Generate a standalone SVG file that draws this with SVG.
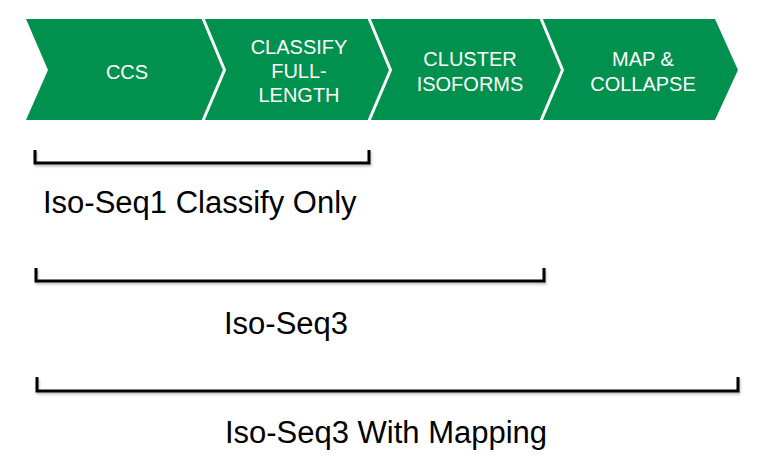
<svg xmlns="http://www.w3.org/2000/svg" width="767" height="459" viewBox="0 0 767 459">
<defs>
<filter id="sh" x="-5%" y="-50%" width="110%" height="200%">
<feDropShadow dx="1" dy="2" stdDeviation="1.2" flood-color="#000" flood-opacity="0.25"/>
</filter>
</defs>
<style>
.step{fill:#00914f}
.sep{fill:none;stroke:#fff;stroke-width:3}
.st{font-family:"Liberation Sans",Arial,sans-serif;font-size:20px;fill:#fff;text-anchor:middle}
.br{fill:none;stroke:#000;stroke-width:3;filter:url(#sh)}
.lb{font-family:"Liberation Sans",Arial,sans-serif;font-size:31px;fill:#000}
</style>
<rect width="767" height="459" fill="#fff"/>
<g id="steps">
<polygon class="step" points="26,19 715,19 738,70 715,120 26,120 48,70"/>
<polyline class="sep" points="202,16 224.5,70 202,123"/>
<polyline class="sep" points="368,16 390.5,70 368,123"/>
<polyline class="sep" points="540,16 562.5,70 540,123"/>
</g>
<g id="node-ccs"><text class="st" x="127" y="78.5">CCS</text></g>
<g id="node-classify"><text class="st" x="299" y="54">CLASSIFY</text><text class="st" x="299" y="77.5">FULL-</text><text class="st" x="299" y="101.5">LENGTH</text></g>
<g id="node-cluster"><text class="st" x="470" y="66">CLUSTER</text><text class="st" x="470" y="90.5">ISOFORMS</text></g>
<g id="node-map"><text class="st" x="643" y="66">MAP &amp;</text><text class="st" x="643" y="90.5">COLLAPSE</text></g>
<g id="connectors">
<polyline class="br" points="35,150 35,163 369,163 369,150"/>
<polyline class="br" points="36,268 36,281 544,281 544,268"/>
<polyline class="br" points="37,377 37,391 738,391 738,377"/>
</g>
<g id="labels">
<text class="lb" x="43" y="212.5">Iso-Seq1 Classify Only</text>
<text class="lb" x="286" y="333.5" text-anchor="middle">Iso-Seq3</text>
<text class="lb" x="386" y="442.5" text-anchor="middle">Iso-Seq3 With Mapping</text>
</g>
</svg>
